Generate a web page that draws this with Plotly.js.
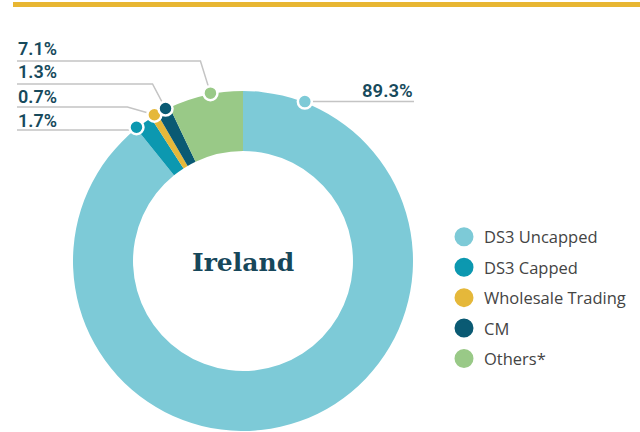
<!DOCTYPE html>
<html>
<head>
<meta charset="utf-8">
<script src="https://cdn.plot.ly/plotly-3.0.1.min.js"></script>
<style>html,body{margin:0;padding:0;background:#fff;}#chart{width:640px;height:432px;}</style>
</head>
<body>
<div id="chart"></div>
<script>
// ---- data ----
const labels = ['DS3 Uncapped', 'DS3 Capped', 'Wholesale Trading', 'CM', 'Others*'];
const values = [89.3, 1.7, 0.7, 1.3, 7.1];
const colors = ['#7DCAD7', '#0C98B0', '#E5B83A', '#0A5A73', '#99C987'];
const centerTitle = 'Ireland';

// ---- layout parameters (pixels) ----
const W = 640, H = 432;
const cx = 243, cy = 261, R = 170;
const holeFrac = 0.647;
const dotR = 171;                         // radius where dots sit
const anchorFrac = [0.066, 0.05, 0.6, 0.7, 0.57]; // position of dot within its slice
const leftRows = [4, 3, 2, 1];            // slice index order of left labels, top to bottom
const rowTextY = [48, 72, 97, 120];
const rowLineY = [61, 84, 107, 130];
const rowBreak = [10, 13, 27, 0];         // horizontal offset of elbow from dot
const leftX = 17;
const rightEndX = 414;
const textColor = '#174A5C';
const lineColor = '#C4C4C4';

const px = x => x / W;
const py = y => 1 - y / H;

const total = values.reduce((a, b) => a + b, 0);
let cum = 0;
const dots = values.map((v, i) => {
  const a0 = cum / total * 2 * Math.PI;
  cum += v;
  const a1 = cum / total * 2 * Math.PI;
  const a = a0 + (a1 - a0) * anchorFrac[i];
  return { x: cx + dotR * Math.sin(a), y: cy - dotR * Math.cos(a) };
});
const pctText = values.map(v => v.toFixed(1) + '%');

const shapes = [];
const annotations = [];

// top yellow rule
shapes.push({type: 'rect', xref: 'paper', yref: 'paper', x0: px(13), x1: px(640), y0: py(2), y1: py(7),
  fillcolor: '#E8B632', line: {width: 0}, layer: 'above'});

// leader lines
leftRows.forEach((si, r) => {
  const d = dots[si];
  const bx = d.x - rowBreak[r];
  shapes.push({type: 'path', xref: 'paper', yref: 'paper',
    path: `M ${px(leftX)} ${py(rowLineY[r])} L ${px(bx)} ${py(rowLineY[r])} L ${px(d.x)} ${py(d.y)}`,
    line: {color: lineColor, width: 1.5}, layer: 'above'});
  annotations.push({xref: 'paper', yref: 'paper', x: px(leftX - 1), y: py(rowTextY[r]), xanchor: 'left', yanchor: 'middle',
    text: pctText[si], showarrow: false, font: {family: 'Roboto, Arial, sans-serif', size: 18, color: textColor, weight: 600}});
});
// right label for first slice
shapes.push({type: 'line', xref: 'paper', yref: 'paper', x0: px(dots[0].x), x1: px(rightEndX), y0: py(dots[0].y), y1: py(dots[0].y),
  line: {color: lineColor, width: 1.5}, layer: 'above'});
annotations.push({xref: 'paper', yref: 'paper', x: px(rightEndX + 1), y: py(91), xanchor: 'right', yanchor: 'middle',
  text: pctText[0], showarrow: false, font: {family: 'Roboto, Arial, sans-serif', size: 18.5, color: textColor, weight: 600}});

// dots
dots.forEach((d, i) => {
  const r = 7;
  shapes.push({type: 'circle', xref: 'paper', yref: 'paper', x0: px(d.x - r), x1: px(d.x + r), y0: py(d.y + r), y1: py(d.y - r),
    fillcolor: colors[i], line: {color: '#ffffff', width: 2.5}, layer: 'above'});
});

// center title
annotations.push({xref: 'paper', yref: 'paper', x: px(cx), y: py(262), xanchor: 'center', yanchor: 'middle',
  text: '<b>' + centerTitle + '</b>', showarrow: false, font: {family: 'DejaVu Serif, serif', size: 25, color: '#17475A'}});

const traces = [{
  type: 'pie', labels: labels, values: values, sort: false, direction: 'clockwise', rotation: 0,
  hole: holeFrac, textinfo: 'none', hoverinfo: 'label+percent', showlegend: false,
  marker: {colors: colors, line: {width: 0}},
  domain: {x: [px(cx - R), px(cx + R)], y: [py(cy + R), py(cy - R)]}
}];
// legend entries as circle markers
labels.forEach((l, i) => {
  traces.push({type: 'scatter', mode: 'markers', x: [null], y: [null], name: l, legendgroup: 'g' + i,
    marker: {color: colors[i], size: 16, line: {color: colors[i], width: 3}}, hoverinfo: 'skip'});
});

const layout = {
  width: W, height: H, margin: {l: 0, r: 0, t: 0, b: 0},
  paper_bgcolor: '#fff', plot_bgcolor: 'rgba(0,0,0,0)',
  xaxis: {visible: false, range: [0, 1]}, yaxis: {visible: false, range: [0, 1]},
  showlegend: true,
  legend: {x: px(444), xanchor: 'left', y: py(298), yanchor: 'middle', tracegroupgap: 6,
    font: {family: 'Open Sans, Arial, sans-serif', size: 16.5, color: '#444444'}, bgcolor: 'rgba(0,0,0,0)'},
  shapes: shapes, annotations: annotations
};

Plotly.newPlot('chart', traces, layout, {staticPlot: true, displayModeBar: false});
</script>
</body>
</html>
